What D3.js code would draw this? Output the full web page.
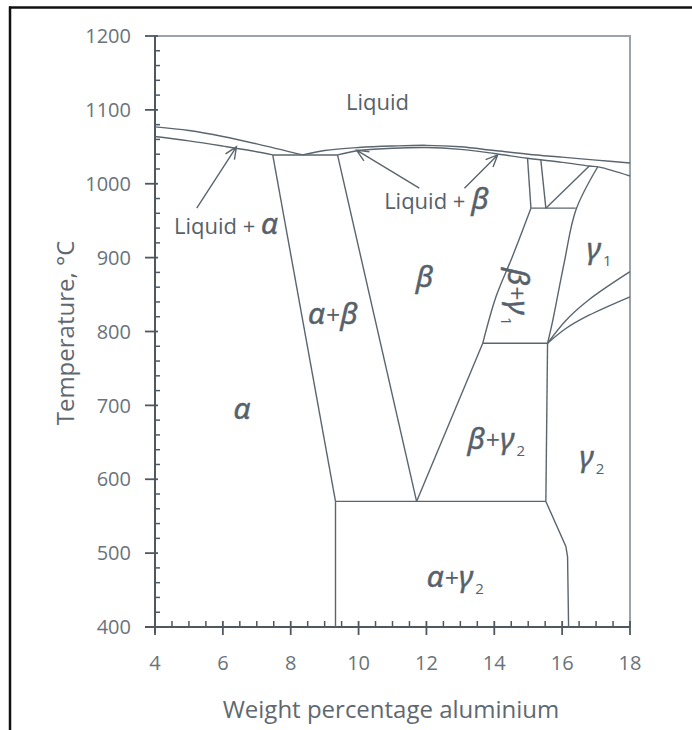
<!DOCTYPE html>
<html>
<head>
<meta charset="utf-8">
<script src="https://cdn.jsdelivr.net/npm/d3@7"></script>
<style>
  html, body { margin: 0; padding: 0; background: #fff; }
  svg { display: block; }
  .tick-label { font-family: "Open Sans", sans-serif; font-size: 20px; fill: #6a737a; }
  .axis-title { font-family: "Open Sans", sans-serif; font-size: 24px; fill: #5f6870; }
  .region { font-family: "Open Sans", sans-serif; font-size: 22px; fill: #56616a; }
  .greek { font-family: "Noto Sans", sans-serif; font-style: italic; font-size: 30px; fill: #56616a; stroke: #56616a; stroke-width: 0.5px; }
  .sub { font-family: "Open Sans", sans-serif; font-style: normal; font-size: 15px; stroke-width: 0; }
  .plus { font-family: "Open Sans", sans-serif; font-style: normal; font-size: 25px; stroke-width: 0; }
</style>
</head>
<body>
<script>
// ---------- axis ticks ----------
const xMajorTicks = [4, 6, 8, 10, 12, 14, 16, 18];
const yMajorTicks = [400, 500, 600, 700, 800, 900, 1000, 1100, 1200];
const xAxisTitle = "Weight percentage aluminium";
const yAxisTitle = "Temperature, °C";

// ---------- phase boundaries [wt% Al, °C] ----------
const liquidusAlpha = [[4, 1077], [5, 1072], [6, 1064], [7, 1054], [8.35, 1039]];
const solidusAlpha = [[4, 1064], [5, 1058], [6, 1051], [6.8, 1045], [7.47, 1039]];
const eutecticLine = [[7.47, 1039], [9.38, 1039]];
const liquidusBeta = [[8.35, 1039], [9, 1045], [10, 1049], [11, 1051], [12, 1052], [13, 1050], [14, 1045], [15, 1040], [16, 1036], [17, 1032], [18, 1028]];
const solidusBeta = [[9.38, 1039], [10, 1045], [11, 1048], [12, 1049], [13, 1046.5], [14, 1041], [14.98, 1034.5], [16, 1029], [16.8, 1024], [17.1, 1022.5], [18, 1010.5]];
const vLine1 = [[14.98, 1034.5], [15.08, 967]];
const vLine2 = [[15.37, 1033], [15.52, 967]];
const line967 = [[15.08, 967], [16.40, 967]];
const diagonal967 = [[15.52, 967], [16.8, 1024]];
const gamma1Left = [[17.05, 1023], [16.41, 965], [16.06, 893], [15.71, 812], [15.57, 784]];
const betaGamma1Left = [[15.08, 967], [14.53, 901], [14.05, 847], [13.66, 784]];
const line784 = [[13.66, 784], [15.57, 784]];
const betaRight = [[13.66, 784], [11.71, 570]];
const betaLeft = [[9.38, 1039], [11.71, 570]];
const alphaRight = [[7.47, 1039], [9.32, 570]];
const line570 = [[9.32, 570], [15.52, 570]];
const gamma2Left = [[15.57, 784], [15.52, 570]];
const gamma2Lower = [[15.52, 570], [16.11, 509], [16.16, 495], [16.19, 400]];
const alphaGamma2Left = [[9.32, 570], [9.32, 400]];
const gamma1Upper = [[15.57, 784], [16.11, 815], [16.79, 843], [18, 881]];
const gamma1Lower = [[15.57, 784], [16.11, 804], [16.79, 822], [18, 847]];

const straightLines = [eutecticLine, vLine1, vLine2, line967, diagonal967, line784, betaRight, betaLeft, alphaRight, line570, gamma2Left, alphaGamma2Left];
const curvedLines = [liquidusAlpha, solidusAlpha, liquidusBeta, solidusBeta, gamma1Left, betaGamma1Left, gamma1Upper, gamma1Lower];
const polyLines = [gamma2Lower];

// ---------- arrows [start, tip] ----------
const arrows = [
  [[5.23, 967], [6.40, 1050]],
  [[11.79, 994], [9.94, 1045.5]],
  [[13.12, 994], [14.1, 1039]]
];

// ---------- region labels ----------
const plainLabels = [
  { text: "Liquid", x: 10.56, t: 1110 }
];
const mixedLabels = [
  { parts: [["Liquid + ", "region"], ["α", "greek"]], x: 6.09, t: 943 },
  { parts: [["Liquid + ", "region"], ["β", "greek"]], x: 12.29, t: 977 }
];
const phaseLabels = [
  { name: "β", sub: "", x: 11.94, t: 872, rot: 0 },
  { name: "α+β", sub: "", x: 9.24, t: 823, rot: 0 },
  { name: "α", sub: "", x: 6.56, t: 694, rot: 0 },
  { name: "β+γ", sub: "1", x: 14.68, t: 847, rot: 90 },
  { name: "γ", sub: "1", x: 17.09, t: 910, rot: 0 },
  { name: "β+γ", sub: "2", x: 14.06, t: 653, rot: 0 },
  { name: "γ", sub: "2", x: 16.88, t: 629, rot: 0 },
  { name: "α+γ", sub: "2", x: 12.85, t: 466, rot: 0 }
];

// ---------- drawing ----------
const W = 692, H = 730;
const svg = d3.select("body").append("svg").attr("width", W).attr("height", H);

const x = d3.scaleLinear().domain([4, 18]).range([155, 630]);
const y = d3.scaleLinear().domain([400, 1200]).range([627, 36]);

const axisColor = "#4d5861";
const lineColor = "#5a656e";

// outer border
svg.append("line").attr("x1", 9).attr("x2", W).attr("y1", 7.5).attr("y2", 7.5)
  .attr("stroke", "#111").attr("stroke-width", 2.5);
svg.append("line").attr("x1", 10).attr("x2", 10).attr("y1", 6.5).attr("y2", H)
  .attr("stroke", "#111").attr("stroke-width", 2.5);

// plot frame (top/right)
svg.append("path")
  .attr("d", `M${x(4)},${y(1200)}H${x(18)}V${y(400)}`)
  .attr("fill", "none").attr("stroke", "#9aa3a9").attr("stroke-width", 2);

// minor ticks
const xMinor = d3.range(4, 18.001, 0.5).filter(v => Math.abs(v % 2) > 1e-6);
const yMinor = d3.range(400, 1200.001, 20).filter(v => v % 100 !== 0);

const gx = svg.append("g");
gx.selectAll("line.minor").data(xMinor).join("line")
  .attr("x1", d => x(d)).attr("x2", d => x(d))
  .attr("y1", y(400)).attr("y2", y(400) - 6)
  .attr("stroke", axisColor).attr("stroke-width", 1.5);
gx.selectAll("line.major").data(xMajorTicks).join("line")
  .attr("x1", d => x(d)).attr("x2", d => x(d))
  .attr("y1", y(400) - 6).attr("y2", y(400) + 8)
  .attr("stroke", axisColor).attr("stroke-width", 1.8);
gx.append("line").attr("x1", 145).attr("x2", x(18)).attr("y1", y(400)).attr("y2", y(400))
  .attr("stroke", axisColor).attr("stroke-width", 2);
gx.selectAll("text").data(xMajorTicks).join("text")
  .attr("class", "tick-label")
  .attr("x", d => x(d)).attr("y", y(400) + 43)
  .attr("text-anchor", "middle")
  .text(d => d);

const gy = svg.append("g");
gy.selectAll("line.minor").data(yMinor).join("line")
  .attr("x1", x(4)).attr("x2", x(4) + 5)
  .attr("y1", d => y(d)).attr("y2", d => y(d))
  .attr("stroke", axisColor).attr("stroke-width", 1.5);
gy.selectAll("line.major").data(yMajorTicks).join("line")
  .attr("x1", x(4) - 10).attr("x2", x(4) + 3)
  .attr("y1", d => y(d)).attr("y2", d => y(d))
  .attr("stroke", axisColor).attr("stroke-width", 1.8);
gy.append("line").attr("x1", x(4)).attr("x2", x(4)).attr("y1", y(1200)).attr("y2", y(400) + 6)
  .attr("stroke", axisColor).attr("stroke-width", 2);
gy.selectAll("text").data(yMajorTicks).join("text")
  .attr("class", "tick-label")
  .attr("x", x(4) - 24).attr("y", d => y(d))
  .attr("dy", "0.36em")
  .attr("text-anchor", "end")
  .text(d => d);

// axis titles
svg.append("text").attr("class", "axis-title")
  .attr("x", 391).attr("y", 718).attr("text-anchor", "middle").text(xAxisTitle);
svg.append("text").attr("class", "axis-title")
  .attr("transform", `translate(74,333) rotate(-90)`)
  .attr("text-anchor", "middle").text(yAxisTitle);

// phase boundaries
const gLines = svg.append("g").attr("fill", "none").attr("stroke", lineColor).attr("stroke-width", 1.4);
const straight = d3.line().x(d => x(d[0])).y(d => y(d[1]));
const curved = d3.line().x(d => x(d[0])).y(d => y(d[1])).curve(d3.curveCatmullRom.alpha(0.5));
gLines.selectAll("path.s").data(straightLines.concat(polyLines)).join("path").attr("class", "s").attr("d", straight);
gLines.selectAll("path.c").data(curvedLines).join("path").attr("class", "c").attr("d", curved);

// arrows
const gArr = svg.append("g").attr("fill", "none").attr("stroke", lineColor).attr("stroke-width", 1.4);
arrows.forEach(a => {
  const x0 = x(a[0][0]), y0 = y(a[0][1]), x1 = x(a[1][0]), y1 = y(a[1][1]);
  const ang = Math.atan2(y1 - y0, x1 - x0);
  const L = 13, spread = 0.42;
  gArr.append("path").attr("d",
    `M${x0},${y0}L${x1},${y1}` +
    `M${x1 - L * Math.cos(ang - spread)},${y1 - L * Math.sin(ang - spread)}L${x1},${y1}` +
    `L${x1 - L * Math.cos(ang + spread)},${y1 - L * Math.sin(ang + spread)}`);
});

// labels
svg.selectAll("text.plain").data(plainLabels).join("text")
  .attr("class", "region plain")
  .attr("x", d => x(d.x)).attr("y", d => y(d.t)).attr("dy", "0.36em")
  .attr("text-anchor", "middle").text(d => d.text);

mixedLabels.forEach(d => {
  const t = svg.append("text").attr("class", "region")
    .attr("x", x(d.x)).attr("y", y(d.t)).attr("dy", "0.36em").attr("text-anchor", "middle");
  d.parts.forEach(p => t.append("tspan").attr("class", p[1]).text(p[0]));
});

phaseLabels.forEach(d => {
  const t = svg.append("text").attr("class", "greek")
    .attr("text-anchor", "middle")
    .attr("transform", `translate(${x(d.x)},${y(d.t)}) rotate(${d.rot})`)
    .attr("dy", "0.3em");
  const chars = Array.from(d.name);
  chars.forEach(c => {
    if (c === "+") t.append("tspan").attr("class", "plus").attr("dx", 1).text("+");
    else t.append("tspan").text(c);
  });
  if (d.sub) t.append("tspan").attr("class", "sub").attr("dx", 2).attr("dy", 7).text(d.sub);
});
</script>
</body>
</html>
